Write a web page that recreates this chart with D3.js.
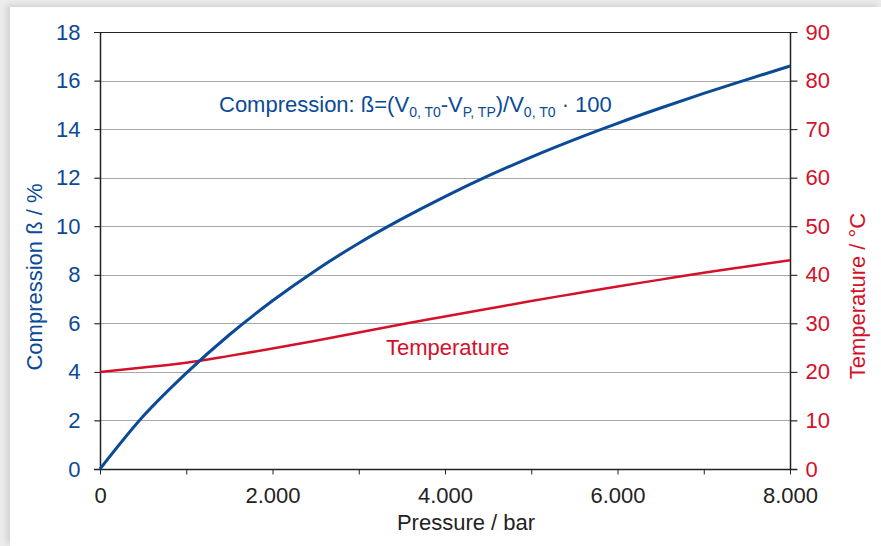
<!DOCTYPE html>
<html>
<head>
<meta charset="utf-8">
<script src="https://cdn.jsdelivr.net/npm/d3@7"></script>
<style>
  html, body { margin: 0; padding: 0; background: #ececec; }
  #card { position: absolute; left: 10px; top: 7px; width: 871px; height: 539px; background: #fff;
          box-shadow: -3px -2px 6px rgba(0,0,0,0.12); }
  svg { position: absolute; left: 0; top: 0; }
  text { font-family: "Liberation Sans", Arial, sans-serif; }
</style>
</head>
<body>
<div id="card"></div>
<svg id="chart" width="881" height="546"></svg>
<script>
// pressure in bar
var pressure = [0, 500, 1000, 1500, 2000, 2500, 3000, 3500, 4000, 4500, 5000, 5500, 6000, 6500, 7000, 7500, 8000];
// compression in %
var compression = [0, 2.17, 3.95, 5.53, 6.93, 8.18, 9.30, 10.30, 11.22, 12.07, 12.85, 13.57, 14.24, 14.87, 15.47, 16.04, 16.6];
// temperature in °C
var temperature = [20, 20.9, 21.9, 23.3, 24.8, 26.4, 28.1, 29.8, 31.4, 33.0, 34.6, 36.1, 37.6, 39.0, 40.4, 41.7, 43.0];

var leftTicks = [0, 2, 4, 6, 8, 10, 12, 14, 16, 18];
var rightTicks = [0, 10, 20, 30, 40, 50, 60, 70, 80, 90];
var xTicks = [0, 1000, 2000, 3000, 4000, 5000, 6000, 7000, 8000];
var xLabels = [0, 2000, 4000, 6000, 8000];

var blue = '#0b4a97', red = '#d4102a', dark = '#222';
var plotL = 100, plotR = 790, plotT = 32, plotB = 469;
var fs = 22, sub = 14, font = '"Liberation Sans", Arial, sans-serif';

var svg = d3.select('#chart');

var x = d3.scaleLinear().domain([0, 8000]).range([plotL, plotR]);
var yL = d3.scaleLinear().domain([0, 18]).range([plotB, plotT]);
var yR = d3.scaleLinear().domain([0, 90]).range([plotB, plotT]);

// gridlines
svg.append('g').selectAll('line')
  .data(leftTicks.slice(1, -1))
  .enter().append('line')
  .attr('x1', plotL - 6).attr('x2', plotR + 7)
  .attr('y1', d => Math.round(yL(d)) + 0.5).attr('y2', d => Math.round(yL(d)) + 0.5)
  .attr('stroke', '#a8a8a8').attr('stroke-width', 1);

// left axis
var gL = svg.append('g').attr('transform', 'translate(' + (plotL + 0.5) + ',0)')
  .call(d3.axisLeft(yL).tickValues(leftTicks).tickSize(6).tickPadding(14).tickFormat(d3.format('d')));
gL.select('.domain').attr('stroke', dark).attr('stroke-width', 1.5).attr('d', 'M0,' + plotT + 'V' + plotB);
gL.selectAll('.tick line').attr('stroke', dark);
gL.selectAll('.tick text').attr('fill', blue).attr('font-size', fs).attr('font-family', font);

// right axis
var gR = svg.append('g').attr('transform', 'translate(' + (plotR + 0.5) + ',0)')
  .call(d3.axisRight(yR).tickValues(rightTicks).tickSize(7).tickPadding(8).tickFormat(d3.format('d')));
gR.select('.domain').attr('stroke', dark).attr('stroke-width', 1.5).attr('d', 'M0,' + plotT + 'V' + plotB);
gR.selectAll('.tick line').attr('stroke', dark);
gR.selectAll('.tick text').attr('fill', red).attr('font-size', fs).attr('font-family', font);

// top border
svg.append('line').attr('x1', plotL - 6).attr('x2', plotR + 7).attr('y1', plotT + 0.5).attr('y2', plotT + 0.5)
  .attr('stroke', dark).attr('stroke-width', 1.2);

// bottom axis
var gX = svg.append('g').attr('transform', 'translate(0,' + (plotB + 0.5) + ')')
  .call(d3.axisBottom(x).tickValues(xTicks).tickSize(5).tickPadding(13)
    .tickFormat(d => xLabels.indexOf(d) >= 0 ? d3.format(',')(d).replace(/,/g, '.') : ''));
gX.select('.domain').attr('stroke', dark).attr('stroke-width', 1.5).attr('d', 'M' + (plotL - 6) + ',0H' + (plotR + 7));
gX.selectAll('.tick line').attr('stroke', dark);
gX.selectAll('.tick text').attr('fill', dark).attr('font-size', fs).attr('font-family', font);

// lines
var lineC = d3.line().x((d, i) => x(pressure[i])).y(d => yL(d)).curve(d3.curveMonotoneX);
var lineT = d3.line().x((d, i) => x(pressure[i])).y(d => yR(d)).curve(d3.curveMonotoneX);

svg.append('path').datum(temperature).attr('d', lineT)
  .attr('fill', 'none').attr('stroke', red).attr('stroke-width', 2.5);
svg.append('path').datum(compression).attr('d', lineC)
  .attr('fill', 'none').attr('stroke', blue).attr('stroke-width', 3);

// series labels
var lab = svg.append('text').attr('x', 219).attr('y', 112).attr('fill', blue).attr('font-size', fs);
lab.append('tspan').text('Compression: ß=(V');
lab.append('tspan').attr('font-size', sub).attr('dy', 5).text('0, T0');
lab.append('tspan').attr('dy', -5).text('-V');
lab.append('tspan').attr('font-size', sub).attr('dy', 5).text('P, TP');
lab.append('tspan').attr('dy', -5).text(')/V');
lab.append('tspan').attr('font-size', sub).attr('dy', 5).text('0, T0');
lab.append('tspan').attr('dy', -5).text(' · 100');

svg.append('text').attr('x', 386).attr('y', 355).attr('fill', red).attr('font-size', fs).text('Temperature');

// axis titles
svg.append('text').attr('transform', 'translate(42,277) rotate(-90)').attr('text-anchor', 'middle')
  .attr('fill', blue).attr('font-size', fs).text('Compression ß / %');
svg.append('text').attr('transform', 'translate(865,296) rotate(-90)').attr('text-anchor', 'middle')
  .attr('fill', red).attr('font-size', fs).text('Temperature / °C');
svg.append('text').attr('x', 466).attr('y', 530).attr('text-anchor', 'middle')
  .attr('fill', dark).attr('font-size', fs).text('Pressure / bar');
</script>
</body>
</html>
